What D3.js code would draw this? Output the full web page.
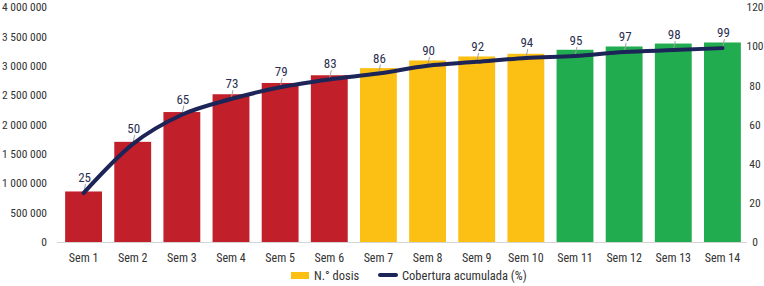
<!DOCTYPE html>
<html>
<head>
<meta charset="utf-8">
<script src="https://cdn.jsdelivr.net/npm/d3@7"></script>
<style>
  body { margin: 0; background: #fff; }
  svg text { font-family: "Liberation Sans Narrow", "Arial Narrow", "Roboto Condensed", "Liberation Sans", sans-serif; }
</style>
</head>
<body>
<svg id="chart" width="764" height="286"></svg>
<script>
var weeks = ['Sem 1', 'Sem 2', 'Sem 3', 'Sem 4', 'Sem 5', 'Sem 6', 'Sem 7', 'Sem 8', 'Sem 9', 'Sem 10', 'Sem 11', 'Sem 12', 'Sem 13', 'Sem 14']
var doses = [860000, 1705000, 2212000, 2515000, 2707000, 2838000, 2960000, 3090000, 3158000, 3204000, 3272000, 3328000, 3378000, 3396000]
var coverage = [25, 50, 65, 73, 79, 83, 86, 90, 92, 94, 95, 97, 98, 99]
var phase = ['r', 'r', 'r', 'r', 'r', 'r', 'y', 'y', 'y', 'y', 'g', 'g', 'g', 'g']
var leftTicks = [0, 500000, 1000000, 1500000, 2000000, 2500000, 3000000, 3500000, 4000000]
var rightTicks = [0, 20, 40, 60, 80, 100, 120]
var legendLabels = ['N.° dosis', 'Cobertura acumulada (%)']

function drawChart () {
  var svg = d3.select('#chart')
  var width = +svg.attr('width')
  var height = +svg.attr('height')
  var margin = { top: 7, left: 59, bottom: 44, right: 17 }
  var colors = { r: '#c1202b', y: '#fcbf14', g: '#21ad4f' }
  var navy = '#1d2457'

  var x = d3.scaleBand()
    .domain(weeks)
    .range([margin.left, width - margin.right])
    .paddingInner(0.25)
    .paddingOuter(0.125)

  var y = d3.scaleLinear()
    .domain([0, 4000000])
    .range([height - margin.bottom, margin.top])

  var y2 = d3.scaleLinear()
    .domain([0, 120])
    .range([height - margin.bottom, margin.top])

  var fmt = function (d) { return d3.format(',')(d).replace(/,/g, ' ') }

  // left axis
  var gY = svg.append('g')
    .attr('transform', 'translate(' + (margin.left - 9) + ',0)')
    .call(d3.axisLeft(y).tickValues(leftTicks).tickFormat(fmt).tickSize(0))
  gY.select('.domain').remove()
  gY.selectAll('text').attr('fill', '#333').attr('font-size', 11.5)

  // right axis
  var gY2 = svg.append('g')
    .attr('transform', 'translate(' + (width - 9) + ',0)')
    .call(d3.axisRight(y2).tickValues(rightTicks).tickSize(0))
  gY2.select('.domain').remove()
  gY2.selectAll('text')
    .attr('fill', '#333')
    .attr('font-size', 11.5)
    .attr('x', 0)
    .attr('text-anchor', 'middle')

  // baseline
  svg.append('line')
    .attr('x1', margin.left - 2)
    .attr('x2', width - margin.right)
    .attr('y1', y(0) + 0.5)
    .attr('y2', y(0) + 0.5)
    .attr('stroke', '#d4d4d4')

  // bars
  svg.selectAll('rect.bar')
    .data(weeks).enter().append('rect')
    .attr('class', 'bar')
    .attr('x', function (d) { return x(d) })
    .attr('width', x.bandwidth())
    .attr('y', function (d, i) { return y(doses[i]) })
    .attr('height', function (d, i) { return y(0) - y(doses[i]) })
    .attr('fill', function (d, i) { return colors[phase[i]] })

  // x labels
  svg.append('g')
    .selectAll('text')
    .data(weeks).enter().append('text')
    .attr('x', function (d) { return x(d) + x.bandwidth() / 2 })
    .attr('y', y(0) + 20)
    .attr('text-anchor', 'middle')
    .attr('font-size', 12)
    .attr('fill', '#333')
    .text(function (d) { return d })

  // coverage line
  var cx = function (i) { return x(weeks[i]) + x.bandwidth() / 2 }
  var line = d3.line()
    .x(function (d, i) { return cx(i) })
    .y(function (d) { return y2(d) })
    .curve(d3.curveMonotoneX)

  // leader lines
  svg.append('g')
    .selectAll('line')
    .data(coverage).enter().append('line')
    .attr('x1', function (d, i) { return cx(i) + 2 })
    .attr('y1', function (d) { return y2(d) - 9 })
    .attr('x2', function (d, i) { return cx(i) })
    .attr('y2', function (d) { return y2(d) })
    .attr('stroke', '#a0a0a0')
    .attr('stroke-width', 1)

  svg.append('path')
    .datum(coverage)
    .attr('fill', 'none')
    .attr('stroke', navy)
    .attr('stroke-width', 4)
    .attr('stroke-linecap', 'round')
    .attr('d', line)

  // value labels
  svg.append('g')
    .selectAll('text')
    .data(coverage).enter().append('text')
    .attr('x', function (d, i) { return cx(i) + 1 })
    .attr('y', function (d) { return y2(d) - 11 })
    .attr('text-anchor', 'middle')
    .attr('font-size', 13)
    .attr('fill', '#2b3050')
    .text(function (d) { return d })

  // legend
  var gLeg = svg.append('g').attr('transform', 'translate(0,' + (height - 6) + ')')
  gLeg.append('rect')
    .attr('x', 291).attr('y', -8).attr('width', 18).attr('height', 7)
    .attr('fill', colors.y)
  gLeg.append('text')
    .attr('x', 314).attr('y', 0)
    .attr('font-size', 12.5).attr('fill', '#333')
    .text(legendLabels[0])
  gLeg.append('line')
    .attr('x1', 380).attr('x2', 396).attr('y1', -5).attr('y2', -5)
    .attr('stroke', navy).attr('stroke-width', 4).attr('stroke-linecap', 'round')
  gLeg.append('text')
    .attr('x', 402).attr('y', 0)
    .attr('font-size', 12.5).attr('fill', '#333')
    .text(legendLabels[1])
}

drawChart()
</script>
</body>
</html>
